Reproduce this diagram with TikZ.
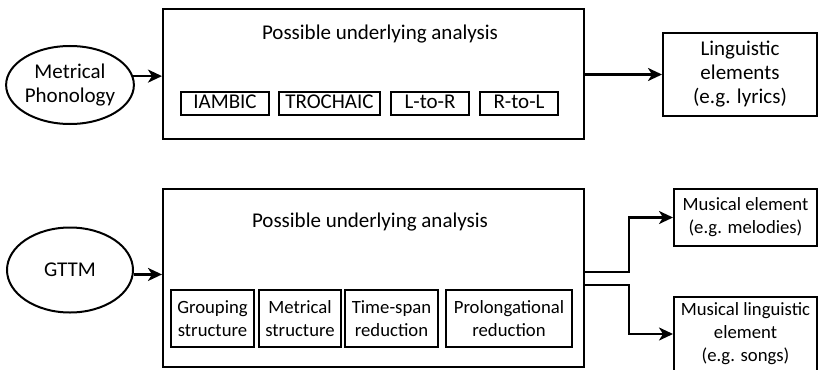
\documentclass[tikz,border=0pt]{standalone}
\usepackage{fontspec}
\setmainfont{Carlito}
\usetikzlibrary{arrows.meta,shapes.geometric}
\begin{document}
\begin{tikzpicture}[x=1pt,y=-1pt,
  box/.style={draw, line width=2pt, rectangle, inner sep=0pt, align=center},
  sub/.style={draw, line width=1.6pt, rectangle, inner sep=0pt, align=center},
  onesub/.style={sub, text height=14pt, text depth=4pt, minimum height=23pt},
  oval/.style={draw, line width=2pt, ellipse, inner sep=0pt, minimum width=126pt, align=center},
  big/.style={font=\fontsize{21}{24}\selectfont},
  small/.style={font=\fontsize{18.7}{23}\selectfont},
  arr/.style={line width=2.6pt, -{Stealth[length=14pt,width=13pt,inset=4pt]}},
  ]
\useasboundingbox (0,0) rectangle (818,369);
\clip (0,0) rectangle (818,369);

% --- metrical phonology branch ---
\node[oval, big, minimum height=78pt] (met) at (70,85) {Metrical\\Phonology};
\node[box, minimum width=421pt, minimum height=130pt] (top) at (373.5,74) {};
\node[big] (ttl1) at (380,34) {Possible underlying analysis};
\node[onesub, big, minimum width=88pt] (iamb) at (225,103.5) {IAMBIC};
\node[onesub, big, minimum width=101pt] (troch) at (329.5,103.5) {TROCHAIC};
\node[onesub, big, minimum width=78pt] (ltr) at (430,103.5) {L-to-R};
\node[onesub, big, minimum width=78pt] (rtl) at (519,103.5) {R-to-L};
\node[box, big, minimum width=154pt, minimum height=83pt] (ling) at (740,74.5)
  {Linguistic\\elements\\(e.g. lyrics)};

\draw[arr] (met.8) -- (met.8 -| top.west);
\draw[arr] (top.east |- ling.west) -- (ling.west);

% --- GTTM branch ---
\node[oval, big, minimum height=85pt] (gttm) at (70,270) {GTTM};
\node[box, minimum width=421pt, minimum height=178pt] (bot) at (373.5,278) {};
\node[big] (ttl2) at (370,222) {Possible underlying analysis};
\node[sub, small, minimum width=83pt, minimum height=57pt] (grp) at (212.5,318.5) {Grouping\\structure};
\node[sub, small, minimum width=82pt, minimum height=57pt] (mtr) at (300,318.5) {Metrical\\structure};
\node[sub, small, minimum width=93pt, minimum height=57pt] (tsr) at (391.5,318.5) {Time-span\\reduction};
\node[sub, small, minimum width=126pt, minimum height=57pt] (pro) at (509,318.5) {Prolongational\\reduction};
\node[box, small, minimum width=143pt, minimum height=57pt] (mus) at (745.5,217.5)
  {Musical element\\(e.g. melodies)};
\node[box, small, minimum width=143pt, minimum height=74pt] (musling) at (745.5,334)
  {Musical linguistic\\element\\(e.g. songs)};

\coordinate (j1) at (629,272);
\coordinate (j2) at (629,285);
\draw[arr] (gttm.-4) -- (gttm.-4 -| bot.west);
\draw[arr] (bot.east |- j1) -- (j1) |- (mus.west);
\draw[arr] (bot.east |- j2) -- (j2) |- (musling.west);
\end{tikzpicture}
\end{document}
